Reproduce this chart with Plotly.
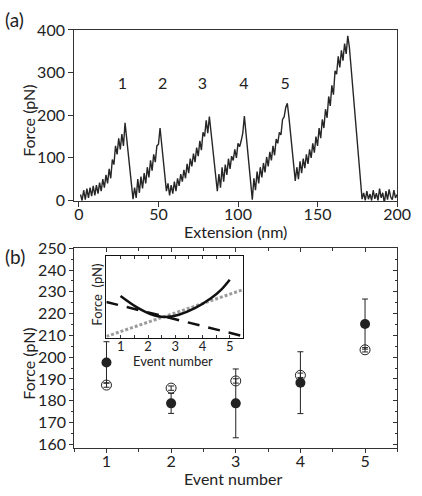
import plotly.graph_objects as go

FONT = "Lato, 'Open Sans', sans-serif"
INK = "#222222"

# ---------------- panel (a): force-extension trace ----------------
ext_nm = list(range(1, 201))
force_pN = [
    14, 0, 24, 2, 28, 6, 30, 10, 34, 12,
    36, 16, 42, 22, 50, 30, 60, 40, 74, 52,
    96, 84, 128, 108, 146, 120, 156, 128, 182,
    146, 110, 74, 38, 3,
    30, 6, 50, 18, 56, 28, 64, 40, 78, 54, 94, 70, 108, 90, 128, 132, 170,
    134, 96, 58, 22,
    40, 12, 36, 16, 44, 22, 52, 34, 62, 44, 72, 52, 86, 64, 98, 80, 110, 90,
    124, 104, 140, 118, 160, 150, 188, 158, 197,
    160, 122, 86, 52, 22,
    62, 30, 78, 44, 84, 60, 98, 74, 104, 94, 120, 100, 134, 126, 140, 158, 198,
    160, 116, 72, 32, 2,
    52, 24, 68, 40, 78, 54, 88, 66, 102, 80, 114, 94, 128, 106, 144, 134, 160,
    154, 190, 196, 218, 228,
    196, 162, 124, 86, 46,
    78, 50, 92, 64, 98, 76, 108, 86, 120, 100, 134, 112, 150, 128, 170, 146,
    190, 170, 214, 194, 244, 222, 270, 248, 304, 296, 338, 312, 352, 328, 368,
    344, 386,
    360, 316, 272, 226, 180, 132, 86, 40, 3,
    18, 0, 22, 3, 15, 0, 24, 4, 17, 0, 28, 6, 18, -6, 22, 2, 26, 8, 2, 24, 6, 14,
]
peak_labels = ["1", "2", "3", "4", "5"]
peak_label_x = [27.4, 52.7, 77.6, 103.7, 129.7]
peak_label_y = [270, 270, 270, 270, 270]

# ---------------- panel (b): rupture forces ----------------
events = [1, 2, 3, 4, 5]
force_measured = [197.6, 178.8, 178.8, 188.3, 215.2]
force_measured_err = [9.5, 4.6, 15.8, 14.2, 11.5]
force_model = [187.2, 185.8, 189.1, 191.7, 203.4]
force_model_err = [1.0, 1.0, 1.0, 1.0, 1.0]

# inset curves (arbitrary force units, 0-100 of inset height)
inset_solid_x = [0.99, 1.58, 2.06, 2.61, 3.13, 3.72, 4.31, 4.67, 5.0]
inset_solid_y = [50.8, 37.2, 29.2, 25.2, 28.0, 36.0, 48.0, 58.0, 70.8]
inset_dash_x = [0.47, 5.5]
inset_dash_y = [43.6, 1.7]
inset_dot_x = [0.47, 5.5]
inset_dot_y = [1.5, 58.7]

W, H = 422, 496


def px(x):
    return x / W


def py(y):
    return 1 - y / H


fig = go.Figure()

fig.add_trace(go.Scatter(x=ext_nm, y=force_pN, mode="lines",
                         line=dict(color="#262626", width=1.4),
                         xaxis="x", yaxis="y", hoverinfo="skip"))
fig.add_trace(go.Scatter(x=peak_label_x, y=peak_label_y, mode="text",
                         text=peak_labels,
                         textfont=dict(family=FONT, size=16, color=INK),
                         xaxis="x", yaxis="y", hoverinfo="skip"))

fig.add_trace(go.Scatter(x=events, y=force_model, mode="markers",
                         marker=dict(symbol="circle-open", size=10, color=INK,
                                     line=dict(width=1, color=INK)),
                         error_y=dict(type="data", array=force_model_err,
                                      width=3, thickness=1, color=INK),
                         xaxis="x2", yaxis="y2", hoverinfo="skip"))
fig.add_trace(go.Scatter(x=events, y=force_measured, mode="markers",
                         marker=dict(symbol="circle", size=10, color=INK),
                         error_y=dict(type="data", array=force_measured_err,
                                      width=3, thickness=1, color=INK),
                         xaxis="x2", yaxis="y2", hoverinfo="skip"))
# anchors for mirrored inside-tick axes
fig.add_trace(go.Scatter(x=[None], y=[None], xaxis="x4", yaxis="y2",
                         hoverinfo="skip"))
fig.add_trace(go.Scatter(x=[None], y=[None], xaxis="x2", yaxis="y4",
                         hoverinfo="skip"))

fig.add_trace(go.Scatter(x=inset_dot_x, y=inset_dot_y, mode="lines",
                         line=dict(color="#9c9c9c", width=3, dash="3px,2px"),
                         xaxis="x3", yaxis="y3", hoverinfo="skip"))
fig.add_trace(go.Scatter(x=inset_dash_x, y=inset_dash_y, mode="lines",
                         line=dict(color="#111111", width=2.5, dash="12px,9px"),
                         xaxis="x3", yaxis="y3", hoverinfo="skip"))
fig.add_trace(go.Scatter(x=inset_solid_x, y=inset_solid_y, mode="lines",
                         line=dict(color="#111111", width=2.5, shape="spline"),
                         xaxis="x3", yaxis="y3", hoverinfo="skip"))
fig.add_trace(go.Scatter(x=[None], y=[None], xaxis="x5", yaxis="y3",
                         hoverinfo="skip"))

axis_common = dict(showgrid=False, zeroline=False, showline=True,
                   linecolor="#333333", linewidth=1, tickcolor="#333333",
                   tickwidth=1, tickfont=dict(family=FONT, size=16, color=INK))

main_x_domain = [px(76.7), px(410.7)]
main_x2_domain = [px(76.7), px(411)]
y2_range = [158.4, 250.2]

fig.update_layout(
    width=W, height=H,
    margin=dict(l=0, r=0, t=0, b=0),
    paper_bgcolor="white", plot_bgcolor="white",
    showlegend=False,
    xaxis=dict(axis_common, domain=main_x_domain, range=[-3, 200], anchor="y",
               mirror=True, ticks="outside", ticklen=5,
               ticklabeloverflow="allow", ticklabelstandoff=-6,
               tickvals=[0, 50, 100, 150, 200]),
    yaxis=dict(axis_common, domain=[py(198.3), py(20.5)], range=[-1.5, 400.5],
               anchor="x", mirror=True, ticks="outside", ticklen=5,
               ticklabeloverflow="allow",
               tickvals=[0, 100, 200, 300, 400]),
    xaxis2=dict(axis_common, domain=main_x2_domain, range=[0.5, 5.5],
                anchor="y2", mirror=True, ticks="outside", ticklen=4,
                ticklabelstandoff=-5,
                tickvals=[1, 2, 3, 4, 5],
                minor=dict(ticks="outside", dtick=0.5, tick0=0.5, ticklen=3,
                           tickcolor="#333333", tickwidth=1)),
    yaxis2=dict(axis_common, domain=[py(454.3), py(246.8)], range=y2_range,
                anchor="x2", mirror=True, ticks="outside", ticklen=4,
                ticklabeloverflow="allow",
                dtick=10, tick0=160,
                minor=dict(ticks="outside", dtick=5, tick0=155, ticklen=2.5,
                           tickcolor="#333333", tickwidth=1)),
    xaxis4=dict(overlaying="x2", side="top", anchor="y2", range=[0.5, 5.5],
                showgrid=False, zeroline=False, showline=False,
                showticklabels=False, ticks="inside", ticklen=4,
                tickcolor="#333333", tickvals=[1, 2, 3, 4, 5],
                minor=dict(ticks="inside", dtick=0.5, tick0=0.5, ticklen=3,
                           tickcolor="#333333")),
    yaxis4=dict(overlaying="y2", side="right", anchor="x2",
                range=y2_range, showgrid=False, zeroline=False,
                showline=False, showticklabels=False, ticks="inside",
                ticklen=4, tickcolor="#333333", dtick=10, tick0=160,
                minor=dict(ticks="inside", dtick=5, tick0=155, ticklen=2.5,
                           tickcolor="#333333")),
    xaxis3=dict(axis_common, domain=[px(110), px(251.7)], range=[0.47, 5.5],
                anchor="y3", mirror=True, linewidth=1.3, linecolor="#111111",
                ticks="inside", ticklen=3, tickvals=[1, 2, 3, 4, 5],
                ticklabelstandoff=-3,
                tickfont=dict(family=FONT, size=13, color=INK),
                minor=dict(ticks="inside", dtick=0.5, tick0=0.5, ticklen=3,
                           tickcolor="#333333")),
    yaxis3=dict(axis_common, domain=[py(340), py(255)], range=[0, 100],
                anchor="x3", mirror=True, linewidth=1.3, linecolor="#111111",
                ticks="", showticklabels=False),
    xaxis5=dict(overlaying="x3", side="top", anchor="y3", range=[0.47, 5.5],
                showgrid=False, zeroline=False, showline=False,
                showticklabels=False, ticks="inside", ticklen=3,
                tickcolor="#333333", tickvals=[1, 2, 3, 4, 5],
                minor=dict(ticks="inside", dtick=0.5, tick0=0.5, ticklen=3,
                           tickcolor="#333333")),
)

ann_font = dict(family=FONT, size=16, color=INK)
annotations = [
    dict(text="(a)", x=px(15), y=py(10), font=dict(family=FONT, size=19, color=INK)),
    dict(text="(b)", x=px(15), y=py(256), font=dict(family=FONT, size=19, color=INK)),
    dict(text="Force (pN)", x=px(30), y=py(115), textangle=-90, font=ann_font),
    dict(text="Extension (nm)", x=px(244), y=py(230), font=ann_font),
    dict(text="Force (pN)", x=px(30), y=py(367), textangle=-90, font=ann_font),
    dict(text="Event number", x=px(241), y=py(486.5), font=ann_font),
    dict(text="Force\u00a0\u00a0(pN)", x=px(100.7), y=py(295), textangle=-90,
         font=dict(family=FONT, size=13, color=INK)),
    dict(text="Event number", x=px(179), y=py(364),
         font=dict(family=FONT, size=13, color=INK)),
]
for a in annotations:
    a.update(xref="paper", yref="paper", showarrow=False,
             xanchor="center", yanchor="middle")
fig.update_layout(annotations=annotations)

fig.write_html("out.html")
